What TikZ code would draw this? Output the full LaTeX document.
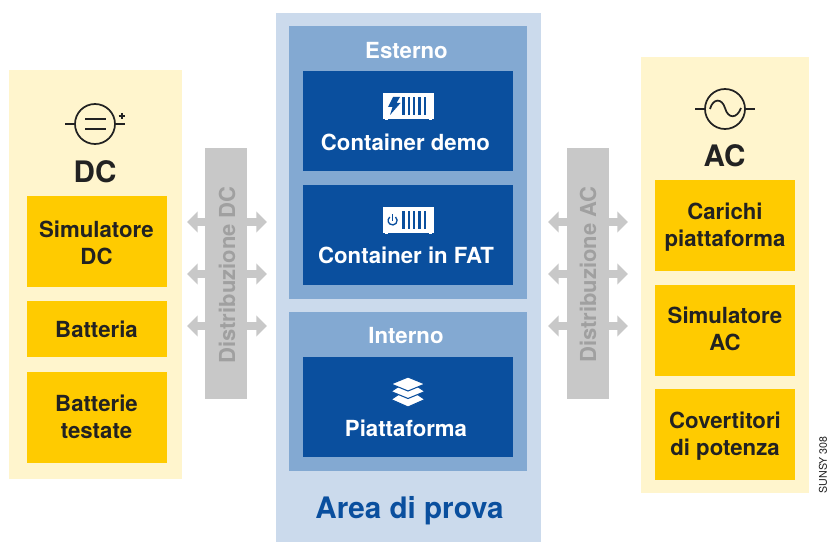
\documentclass[tikz,border=0pt]{standalone}
\usepackage{fontspec}
\setmainfont{TeX Gyre Heros}
\usetikzlibrary{arrows.meta}
\definecolor{panelyellow}{RGB}{255,245,205}
\definecolor{boxyellow}{RGB}{255,203,0}
\definecolor{darkink}{RGB}{34,34,34}
\definecolor{bargray}{RGB}{200,200,200}
\definecolor{bartext}{RGB}{160,160,160}
\definecolor{arealight}{RGB}{203,218,236}
\definecolor{areamid}{RGB}{131,169,210}
\definecolor{areadark}{RGB}{10,79,158}
\tikzset{
  flatbox/.style={inner sep=0pt,outer sep=0pt,draw=none},
  yellowbox/.style={flatbox,fill=boxyellow,minimum width=105pt},
  yellowtext/.style={inner sep=0pt,text=darkink,align=center,font=\bfseries\fontsize{16.65}{20.25}\selectfont},
  bluebox/.style={flatbox,fill=areadark,minimum width=157.5pt,minimum height=75pt},
  midbox/.style={flatbox,fill=areamid,minimum width=178.5pt},
  graybar/.style={flatbox,fill=bargray,minimum width=31.5pt,minimum height=188.25pt},
  whitetext/.style={inner sep=0pt,text=white,font=\bfseries\fontsize{16.65}{20.25}\selectfont},
  bartitle/.style={inner sep=0pt,rotate=90,text=bartext,font=\bfseries\fontsize{16.5}{20}\selectfont},
  bigtitle/.style={inner sep=0pt,text=darkink,font=\bfseries\fontsize{22.2}{26}\selectfont},
  feedarrow/.style={draw=bargray,line width=5.5pt,{Triangle[width=15.5pt,length=8pt]}-{Triangle[width=15.5pt,length=8pt]}},
  symbolline/.style={draw=darkink,line width=1.3pt},
  containerbody/.style={flatbox,fill=white,minimum width=38.25pt,minimum height=19.5pt},
  containerslot/.style={draw=areadark,line width=1.8pt},
  stacklayer/.style={fill=white,draw=areadark,line width=0.8pt,line join=miter}
}
\begin{document}
\begin{tikzpicture}[x=0.75pt,y=0.75pt,yscale=-1,xscale=1]
    \useasboundingbox (0,0) rectangle (829,542);

    %Shape: Panels
    \node [flatbox,fill=panelyellow,minimum width=129.75pt,minimum height=306.75pt] (dcpanel) at (95.5,274.5) {};
    \node [flatbox,fill=panelyellow,minimum width=126pt,minimum height=327pt] (acpanel) at (725,275) {};
    \node [flatbox,fill=arealight,minimum width=198.75pt,minimum height=396.75pt] (areapanel) at (408.5,277.5) {};
    \node [midbox,minimum height=204.75pt] (esternopanel) at (408,162.5) {};
    \node [midbox,minimum height=119.25pt] (internopanel) at (408,391.5) {};

    %Straight Lines: double arrows, DC side
    \coordinate (dcleft1) at (187,222);
    \coordinate (dcright1) at (267,222);
    \coordinate (dcleft2) at (187,274);
    \coordinate (dcright2) at (267,274);
    \coordinate (dcleft3) at (187,326);
    \coordinate (dcright3) at (267,326);
    \draw [feedarrow] (dcleft1) -- (dcright1);
    \draw [feedarrow] (dcleft2) -- (dcright2);
    \draw [feedarrow] (dcleft3) -- (dcright3);
    %Straight Lines: double arrows, AC side
    \coordinate (acleft1) at (548,222);
    \coordinate (acright1) at (628,222);
    \coordinate (acleft2) at (548,274);
    \coordinate (acright2) at (628,274);
    \coordinate (acleft3) at (548,326);
    \coordinate (acright3) at (628,326);
    \draw [feedarrow] (acleft1) -- (acright1);
    \draw [feedarrow] (acleft2) -- (acright2);
    \draw [feedarrow] (acleft3) -- (acright3);

    %Shape: Gray bars
    \node [graybar] (dcbar) at (226,273.5) {};
    \node [graybar] (acbar) at (588,273.5) {};
    % Text Node
    \node [bartitle] (dcbartext) at (227,275) {Distribuzione DC};
    % Text Node
    \node [bartitle] (acbartext) at (588,274.5) {Distribuzione AC};

    %Shape: Yellow boxes, DC
    \node [yellowbox,minimum height=68.25pt] (simdc) at (97,241.5) {};
    \node [yellowbox,minimum height=42pt] (batteria) at (97,329) {};
    \node [yellowbox,minimum height=68.25pt] (batterie) at (97,417.5) {};
    %Shape: Yellow boxes, AC
    \node [yellowbox,minimum height=68.25pt] (carichi) at (725,225.5) {};
    \node [yellowbox,minimum height=68.25pt] (simac) at (725,330.5) {};
    \node [yellowbox,minimum height=68.25pt] (convertitori) at (725,434.5) {};

    % Text Node
    \node [yellowtext] (simdctext) at (96.5,243) {Simulatore\\DC};
    % Text Node
    \node [yellowtext] (batteriatext) at (96.5,329) {Batteria};
    % Text Node
    \node [yellowtext] (batterietext) at (96.5,416.5) {Batterie\\testate};
    % Text Node
    \node [yellowtext] (carichitext) at (725,227) {Carichi\\piattaforma};
    % Text Node
    \node [yellowtext] (simactext) at (725,329) {Simulatore\\AC};
    % Text Node
    \node [yellowtext] (convertitoritext) at (725,436) {Covertitori\\di potenza};

    %Shape: Blue boxes
    \node [bluebox] (demobox) at (408,121) {};
    \node [bluebox] (fatbox) at (408,235) {};
    \node [bluebox] (piattabox) at (408,407) {};

    % Text Node
    \node [whitetext] (esternotext) at (406.5,50.5) {Esterno};
    % Text Node
    \node [whitetext] (demotext) at (405.5,142) {Container demo};
    % Text Node
    \node [whitetext] (fattext) at (406,255) {Container in FAT};
    % Text Node
    \node [whitetext] (internotext) at (406,335.5) {Interno};
    % Text Node
    \node [whitetext] (piattatext) at (406,428) {Piattaforma};
    % Text Node
    \node [bigtitle,text=areadark] (areatext) at (409.5,510.5) {Area di prova};
    % Text Node
    \node [bigtitle] (dctext) at (95,172) {DC};
    % Text Node
    \node [bigtitle] (actext) at (724.5,156) {AC};
    % Text Node
    \node [inner sep=0pt,rotate=90,text=darkink,font=\fontsize{8}{10}\selectfont] (sunsytext) at (823,465) {SUNSY 308};

    %Shape: DC symbol
    \node [circle,draw=darkink,line width=1.3pt,minimum size=30pt,inner sep=0pt] (dcsymbol) at (95,124) {};
    \coordinate (dcwirein) at (65,124);
    \coordinate (dcwireout) at (125,124);
    \draw [symbolline] (dcwirein) -- (dcsymbol.west);
    \draw [symbolline] (dcsymbol.east) -- (dcwireout);
    \draw [symbolline] (85,119) -- (106,119);
    \draw [symbolline] (85,129) -- (106,129);
    \draw [symbolline,line width=1.1pt] (118.5,116) -- (125,116);
    \draw [symbolline,line width=1.1pt] (121.8,113) -- (121.8,119);

    %Shape: AC symbol
    \node [circle,draw=darkink,line width=1.3pt,minimum size=30pt,inner sep=0pt] (acsymbol) at (725,109) {};
    \coordinate (acwirein) at (695,109);
    \coordinate (acwireout) at (755,109);
    \draw [symbolline] (acwirein) -- (acsymbol.west);
    \draw [symbolline] (acsymbol.east) -- (acwireout);
    \draw [symbolline] (710,109) .. controls (713,98) and (722,98) .. (725,108) .. controls (728,119) and (737,119) .. (741,108);

    %Shape: Container with bolt
    \node [containerbody] (demoicon) at (408.5,106) {};
    \fill [white] (385,119) rectangle (388,120.5);
    \fill [white] (429,119) rectangle (432,120.5);
    \fill [areadark] (393,97) -- (400,97) -- (396.5,103) -- (400.5,103) -- (390,115) -- (392.5,107) -- (388,107) -- cycle;
    \draw [containerslot] (403.5,97.5) -- (403.5,115);
    \draw [containerslot] (408.8,97.5) -- (408.8,115);
    \draw [containerslot] (414.1,97.5) -- (414.1,115);
    \draw [containerslot] (419.4,97.5) -- (419.4,115);
    \draw [containerslot] (424.7,97.5) -- (424.7,115);

    %Shape: Container with power
    \node [containerbody] (faticon) at (408.5,219.5) {};
    \fill [white] (385,232.5) rectangle (388,234);
    \fill [white] (429,232.5) rectangle (432,234);
    \draw [areadark,line width=1pt] (395.5,217) arc (-50:230:4.5);
    \draw [areadark,line width=1pt] (392.7,214) -- (392.7,220.5);
    \draw [containerslot] (403.5,211) -- (403.5,228.5);
    \draw [containerslot] (408.8,211) -- (408.8,228.5);
    \draw [containerslot] (414.1,211) -- (414.1,228.5);
    \draw [containerslot] (419.4,211) -- (419.4,228.5);
    \draw [containerslot] (424.7,211) -- (424.7,228.5);

    %Shape: Layers
    \draw [stacklayer] (408,388) -- (425,399.5) -- (408,407) -- (391,399.5) -- cycle;
    \draw [stacklayer] (408,380) -- (425,391.5) -- (408,398.5) -- (391,391.5) -- cycle;
    \draw [stacklayer] (408,377) -- (425,384) -- (408,391) -- (391,384) -- cycle;
\end{tikzpicture}
\end{document}
